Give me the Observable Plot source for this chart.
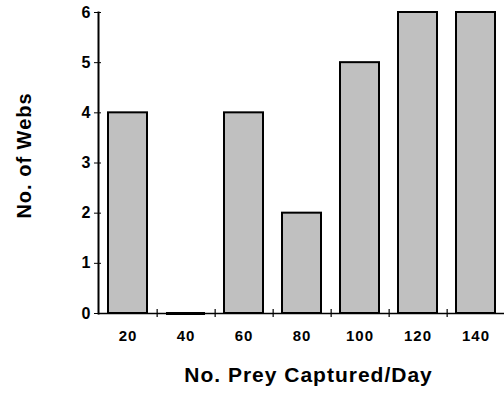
<!DOCTYPE html>
<html><head><meta charset="utf-8">
<script src="https://cdn.jsdelivr.net/npm/d3@7"></script>
<script src="https://cdn.jsdelivr.net/npm/@observablehq/plot@0.6"></script>
<style>
body{margin:0;background:#fff;}
svg{font-family:"Liberation Sans",Arial,sans-serif;}
svg text{letter-spacing:1px;}
</style>
</head><body><div id="chart"></div>
<script>
const categories = ["20","40","60","80","100","120","140"];
const webs = [4,0,4,2,5,6,6];
const yTicks = [0,1,2,3,4,5,6];
const xTitle = "No. Prey Captured/Day";
const yTitle = "No. of Webs";
const data = categories.map((c,i)=>({prey:c, webs:webs[i]}));
const boundaries = categories.slice(0,-1);

const chart = Plot.plot({
  width: 504, height: 397,
  marginTop: 12, marginBottom: 84, marginLeft: 98, marginRight: 0,
  style: {fontFamily: '"Liberation Sans",Arial,sans-serif', fontWeight: "bold", color: "#000", background: "#fff"},
  x: {domain: categories, range: [98, 505], paddingInner: 0.33, paddingOuter: 0.154, label: null},
  y: {domain: [0,6], label: null},
  marks: [
    Plot.barY(data, {x: "prey", y: "webs", fill: "#c0c0c0", stroke: "#000", strokeWidth: 2}),
    Plot.tickY(data.filter(d=>d.webs===0), {x: "prey", y: "webs", stroke: "#000", strokeWidth: 3}),
    Plot.ruleY([0], {stroke: "#000", strokeWidth: 1.5}),
    Plot.ruleX(boundaries, {x: d=>d, dx: 29.15, y1: -0.08, y2: 0.08, stroke: "#000", strokeWidth: 1.2}),
    Plot.axisX({tickSize: 0, tickPadding: 17, fontSize: 15, fontWeight: "bold", label: null}),
    Plot.axisY({ticks: yTicks, tickSize: 4, tickPadding: 3, fontSize: 16, fontWeight: "bold",
      tickFormat: d3.format("d"), label: null}),
    Plot.axisY({ticks: yTicks, tickSize: -3, tickFormat: () => "", label: null}),
    Plot.frame({anchor: "left", strokeWidth: 2}),
    Plot.text([xTitle], {frameAnchor: "bottom", dy: 68, dx: 7, fontSize: 21, fontWeight: "bold", fill: "#000"}),
    Plot.text([yTitle], {frameAnchor: "left", textAnchor: "middle", dx: -74, dy: -7.5, rotate: -90, fontSize: 20, fontWeight: "bold", fill: "#000"})
  ]
});
document.getElementById("chart").appendChild(chart);
</script>
</body></html>
